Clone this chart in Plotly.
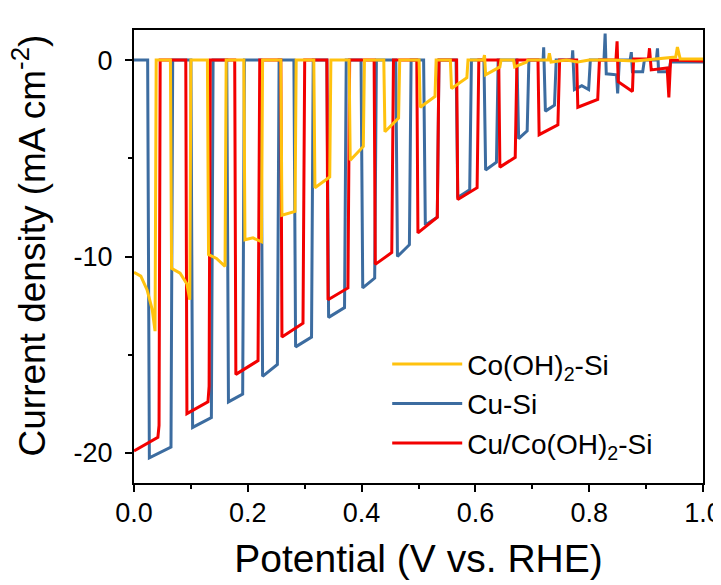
import plotly.graph_objects as go

# Chopped-light LSV curves: potential (V vs. RHE) and current density (mA cm-2)
cu_si_v = [
    0.000, 0.024, 0.027, 0.065, 0.068, 0.100, 0.103, 0.136, 0.139, 0.163,
    0.166, 0.191, 0.194, 0.223, 0.226, 0.252, 0.255, 0.281, 0.284, 0.312,
    0.315, 0.339, 0.342, 0.370, 0.373, 0.399, 0.402, 0.423, 0.426, 0.460,
    0.463, 0.484, 0.487, 0.509, 0.512, 0.533, 0.536, 0.566, 0.569, 0.590,
    0.593, 0.615, 0.618, 0.637, 0.640, 0.673, 0.676, 0.691, 0.694, 0.719,
    0.720, 0.723, 0.739, 0.742, 0.770, 0.771, 0.774, 0.787, 0.799, 0.802,
    0.826, 0.828, 0.830, 0.848, 0.850, 0.853, 0.872, 0.874, 0.876, 0.894,
    0.897, 0.918, 0.920, 0.922, 0.940, 0.943, 1.000,
]
cu_si_j = [
    0.0, 0.0, -20.25, -19.7, 0.0, 0.0, -18.7, -18.2, 0.0, 0.0,
    -17.4, -17.0, 0.0, 0.0, -16.1, -15.5, 0.0, 0.0, -14.6, -14.1,
    0.0, 0.0, -13.1, -12.6, 0.0, 0.0, -11.6, -11.1, 0.0, 0.0,
    -10.0, -9.4, 0.0, 0.0, -8.4, -8.0, 0.0, 0.0, -7.0, -6.6,
    0.0, 0.0, -5.6, -5.2, 0.0, 0.0, -4.0, -3.6, 0.0, 0.0,
    0.65, -2.6, -2.3, 0.0, 0.0, 0.5, -1.5, -1.3, -1.5, 0.0,
    0.0, 1.35, -0.7, -0.75, -1.7, 0.0, 0.0, 0.4, -0.6, -0.6,
    0.0, 0.0, 0.6, -0.6, -0.6, -0.1, -0.1,
]

cu_co_v = [
    0.000, 0.042, 0.044, 0.046, 0.091, 0.093, 0.130, 0.132, 0.134, 0.177,
    0.179, 0.218, 0.221, 0.258, 0.260, 0.297, 0.300, 0.339, 0.341, 0.376,
    0.379, 0.422, 0.424, 0.453, 0.456, 0.497, 0.499, 0.533, 0.536, 0.567,
    0.569, 0.603, 0.606, 0.641, 0.643, 0.670, 0.673, 0.710, 0.712, 0.745,
    0.748, 0.778, 0.780, 0.815, 0.818, 0.847, 0.849, 0.851, 0.876, 0.878,
    0.904, 0.906, 0.909, 0.937, 0.940, 0.943, 1.000,
]
cu_co_j = [
    -19.9, -19.2, -18.6, 0.0, 0.0, -18.0, -17.4, -16.6, 0.0, 0.0,
    -16.0, -15.3, 0.0, 0.0, -14.1, -13.4, 0.0, 0.0, -12.2, -11.6,
    0.0, 0.0, -10.4, -9.8, 0.0, 0.0, -8.8, -8.0, 0.0, 0.0,
    -7.1, -6.5, 0.0, 0.0, -5.45, -4.95, 0.0, 0.0, -3.8, -3.3,
    0.0, 0.0, -2.4, -2.0, 0.0, 0.0, 0.95, -1.1, -1.6, 0.05,
    0.05, 0.6, -0.5, -0.4, -1.9, 0.0, -0.05,
]

co_si_v = [
    0.000, 0.012, 0.023, 0.032, 0.037, 0.039, 0.064, 0.066, 0.081, 0.093,
    0.098, 0.100, 0.129, 0.131, 0.145, 0.160, 0.162, 0.193, 0.195, 0.209,
    0.224, 0.226, 0.258, 0.260, 0.283, 0.285, 0.316, 0.318, 0.344, 0.346,
    0.378, 0.380, 0.403, 0.405, 0.439, 0.441, 0.465, 0.467, 0.501, 0.503,
    0.529, 0.531, 0.556, 0.558, 0.585, 0.587, 0.614, 0.616, 0.618, 0.643,
    0.645, 0.667, 0.669, 0.690, 0.692, 0.728, 0.730, 0.733, 0.760, 0.780,
    0.800, 0.840, 0.880, 0.940, 0.952, 0.955, 0.960, 1.000,
]
co_si_j = [
    -10.8, -11.0, -11.7, -12.7, -13.8, 0.0, 0.0, -10.6, -10.85, -11.4,
    -12.2, 0.0, 0.0, -9.9, -10.1, -10.5, 0.0, 0.0, -9.15, -9.05,
    -9.25, 0.0, 0.0, -7.9, -7.7, 0.0, 0.0, -6.5, -5.95, 0.0,
    0.0, -5.1, -4.4, 0.0, 0.0, -3.65, -2.95, 0.0, 0.0, -2.4,
    -1.85, 0.0, 0.0, -1.45, -0.9, 0.0, 0.0, 0.25, -0.75, -0.35,
    0.0, 0.0, -0.35, -0.1, 0.0, 0.0, 0.35, -0.1, 0.0, -0.1,
    0.0, 0.0, -0.05, 0.1, 0.15, 0.66, 0.05, 0.05,
]

x_ticks = [0.0, 0.2, 0.4, 0.6, 0.8, 1.0]
x_labels = ["0.0", "0.2", "0.4", "0.6", "0.8", "1.0"]
y_ticks = [-20, -10, 0]
y_labels = ["-20", "-10", "0"]

font_family = "Liberation Sans, Arial, sans-serif"

fig = go.Figure()
fig.add_trace(go.Scatter(
    x=cu_si_v, y=cu_si_j, mode="lines", name="Cu-Si",
    line=dict(color="#3C6CA0", width=3), legendrank=2,
))
fig.add_trace(go.Scatter(
    x=cu_co_v, y=cu_co_j, mode="lines", name="Cu/Co(OH)<sub>2</sub>-Si",
    line=dict(color="#F20000", width=3), legendrank=3,
))
fig.add_trace(go.Scatter(
    x=co_si_v, y=co_si_j, mode="lines", name="Co(OH)<sub>2</sub>-Si",
    line=dict(color="#FFC20E", width=3), legendrank=1,
))

axis_style = dict(
    showgrid=False, zeroline=False, automargin=False,
    showline=True, linecolor="black", linewidth=2, mirror=True,
    ticks="outside", ticklen=7, tickwidth=2, tickcolor="black",
    tickfont=dict(size=27, color="black"), ticklabeloverflow="allow",
)

fig.update_xaxes(
    range=[0, 1.0], tickmode="array", tickvals=x_ticks, ticktext=x_labels,
    minor=dict(ticks="outside", ticklen=4, tickwidth=2, dtick=0.1, tick0=0, tickcolor="black"),
    title=dict(text="Potential (V vs. RHE)", font=dict(size=39, color="black"), standoff=17),
    ticklabelstandoff=-2,
    **axis_style,
)
fig.update_yaxes(
    range=[-21.53, 1.53], tickmode="array", tickvals=y_ticks, ticktext=y_labels,
    minor=dict(ticks="outside", ticklen=4, tickwidth=2, dtick=5, tick0=0, tickcolor="black"),
    ticklabelstandoff=7,
    **axis_style,
)

# y title sits a little above the plot centre in the reference, so it is an annotation
fig.add_annotation(
    text="Current density (mA cm<sup>-2</sup>)", textangle=-90,
    xref="paper", yref="paper", x=-0.184, y=0.525,
    xanchor="center", yanchor="middle", showarrow=False,
    font=dict(size=37, color="black"),
)

# the page body adds an 8 px offset, so margins are trimmed to keep the frame in place
fig.update_layout(
    width=721, height=585,
    margin=dict(l=126, r=26, t=22, b=110),
    plot_bgcolor="white", paper_bgcolor="white",
    font=dict(family=font_family, color="black"),
    legend=dict(
        x=0.445, y=0.317, xanchor="left", yanchor="top",
        font=dict(size=28, color="black"),
        bgcolor="rgba(0,0,0,0)", itemwidth=70, tracegroupgap=0,
    ),
)

fig.write_html("out.html")
